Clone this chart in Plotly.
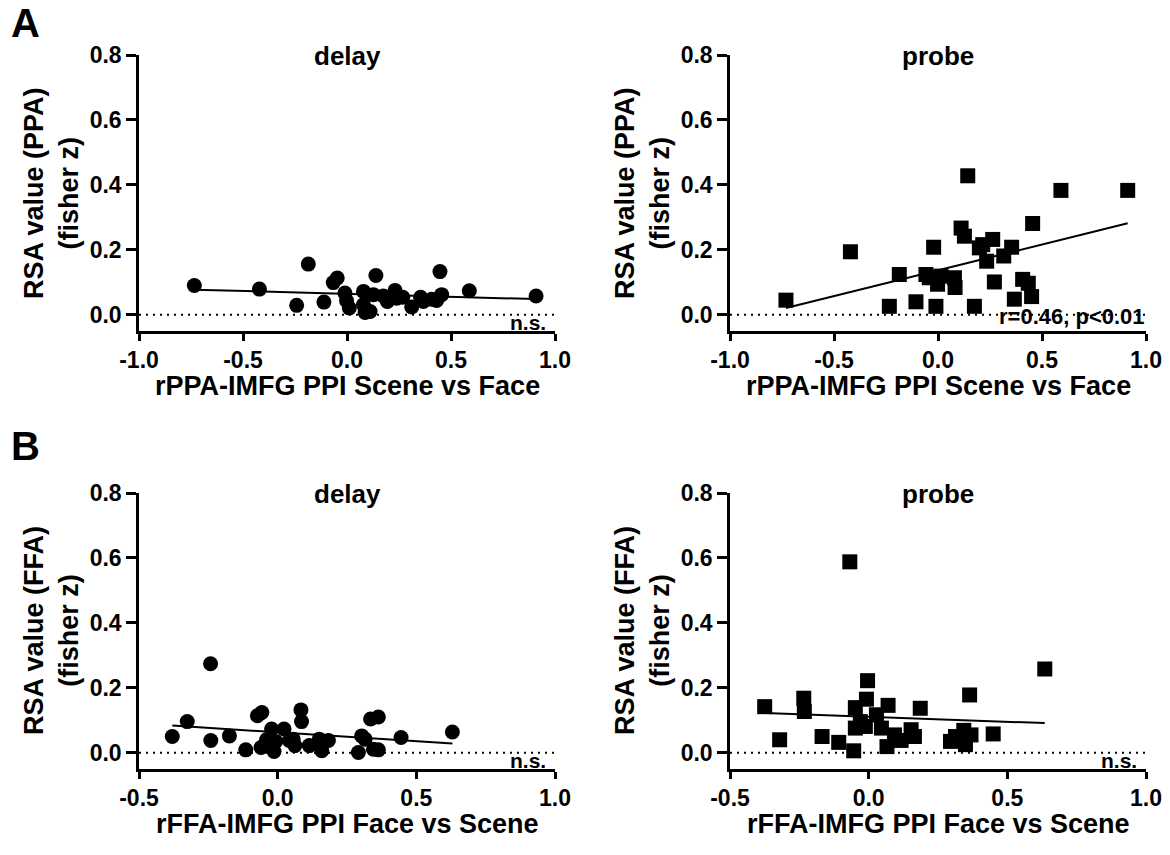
import numpy as np
import plotly.graph_objects as go

# ---------------- data ----------------
a_delay_x = [-0.734, -0.421, -0.186, -0.242, -0.111, -0.066, -0.047, -0.010, -0.002, 0.011,
             0.079, 0.079, 0.087, 0.111, 0.127, 0.139, 0.175, 0.194, 0.231, 0.239,
             0.268, 0.311, 0.354, 0.367, 0.407, 0.431, 0.455, 0.447, 0.588, 0.909]
a_delay_y = [0.090, 0.079, 0.156, 0.029, 0.039, 0.099, 0.113, 0.067, 0.043, 0.021,
             0.072, 0.031, 0.007, 0.010, 0.062, 0.121, 0.058, 0.041, 0.075, 0.051,
             0.054, 0.024, 0.054, 0.041, 0.048, 0.044, 0.062, 0.133, 0.074, 0.058]

a_probe_x = [-0.731, -0.421, -0.234, -0.186, -0.106, -0.058, -0.042, -0.021, -0.010, -0.002,
             0.014, 0.079, 0.082, 0.111, 0.127, 0.143, 0.175, 0.199, 0.215, 0.234,
             0.263, 0.271, 0.316, 0.354, 0.367, 0.407, 0.434, 0.450, 0.455, 0.591, 0.912]
a_probe_y = [0.045, 0.194, 0.026, 0.124, 0.040, 0.124, 0.114, 0.208, 0.026, 0.094,
             0.119, 0.114, 0.084, 0.267, 0.242, 0.428, 0.026, 0.206, 0.216, 0.165,
             0.232, 0.101, 0.181, 0.208, 0.048, 0.109, 0.097, 0.056, 0.281, 0.383, 0.383]

b_delay_x = [-0.380, -0.326, -0.242, -0.241, -0.174, -0.115, -0.073, -0.057, -0.060, -0.040,
             -0.022, -0.013, -0.007, 0.023, 0.042, 0.062, 0.056, 0.084, 0.086, 0.114,
             0.150, 0.159, 0.183, 0.291, 0.303, 0.315, 0.335, 0.363, 0.345, 0.363, 0.445, 0.630]
b_delay_y = [0.050, 0.096, 0.274, 0.038, 0.052, 0.009, 0.114, 0.124, 0.016, 0.040,
             0.073, 0.004, 0.035, 0.073, 0.038, 0.022, 0.042, 0.132, 0.096, 0.022,
             0.042, 0.006, 0.038, 0.001, 0.052, 0.042, 0.104, 0.110, 0.011, 0.009, 0.047, 0.064]

b_probe_x = [-0.375, -0.321, -0.234, -0.232, -0.168, -0.108, -0.068, -0.054, -0.048, -0.048,
             -0.030, -0.012, -0.008, -0.004, 0.028, 0.046, 0.066, 0.070, 0.093, 0.117,
             0.153, 0.165, 0.186, 0.295, 0.313, 0.343, 0.349, 0.369, 0.364, 0.449, 0.635]
b_probe_y = [0.142, 0.040, 0.168, 0.127, 0.050, 0.032, 0.588, 0.006, 0.139, 0.076,
             0.096, 0.081, 0.165, 0.222, 0.117, 0.076, 0.019, 0.146, 0.055, 0.038,
             0.071, 0.050, 0.137, 0.035, 0.050, 0.069, 0.025, 0.055, 0.178, 0.058, 0.258]

y_ticks = [0.0, 0.2, 0.4, 0.6, 0.8]
y_ticktext = ["0.0", "0.2", "0.4", "0.6", "0.8"]
xa_ticks = [-1.0, -0.5, 0.0, 0.5, 1.0]
xa_ticktext = ["-1.0", "-0.5", "0.0", "0.5", "1.0"]
xb_ticks = [-0.5, 0.0, 0.5, 1.0]
xb_ticktext = ["-0.5", "0.0", "0.5", "1.0"]

panel_titles = ["delay", "probe", "delay", "probe"]
x_titles = ["rPPA-IMFG PPI Scene vs Face", "rPPA-IMFG PPI Scene vs Face",
            "rFFA-IMFG PPI Face vs Scene", "rFFA-IMFG PPI Face vs Scene"]
y_titles = ["RSA value (PPA)<br>(fisher z)", "RSA value (PPA)<br>(fisher z)",
            "RSA value (FFA)<br>(fisher z)", "RSA value (FFA)<br>(fisher z)"]
stat_texts = ["n.s.", "r=0.46, p<0.01", "n.s.", "n.s."]
panel_letters = ["A", "B"]

# ---------------- layout geometry ----------------
W, H = 1170, 855
FONT = "Arial, Liberation Sans, sans-serif"

def px_x(p):
    return p / W

def px_y(p):
    return 1 - p / H

panels = [
    dict(x=a_delay_x, y=a_delay_y, sym="circle", size=15, xl=139, xr=555, yt=55, yb=331,
         xrange=[-1.0, 1.0], xt=xa_ticks, xtt=xa_ticktext),
    dict(x=a_probe_x, y=a_probe_y, sym="square", size=15, xl=730, xr=1146, yt=55, yb=331,
         xrange=[-1.0, 1.0], xt=xa_ticks, xtt=xa_ticktext),
    dict(x=b_delay_x, y=b_delay_y, sym="circle", size=15, xl=139, xr=555, yt=493, yb=769,
         xrange=[-0.5, 1.0], xt=xb_ticks, xtt=xb_ticktext),
    dict(x=b_probe_x, y=b_probe_y, sym="square", size=15, xl=730, xr=1146, yt=493, yb=769,
         xrange=[-0.5, 1.0], xt=xb_ticks, xtt=xb_ticktext),
]

fig = go.Figure()
annotations = []
shapes = []
layout_axes = {}

for i, p in enumerate(panels):
    n = "" if i == 0 else str(i + 1)
    xr, yr = "x" + n, "y" + n
    xs = np.array(p["x"])
    ys = np.array(p["y"])
    # scatter points
    fig.add_trace(go.Scatter(x=xs, y=ys, mode="markers", xaxis=xr, yaxis=yr,
                             marker=dict(symbol=p["sym"], size=p["size"], color="black",
                                         line=dict(width=0)),
                             showlegend=False, hoverinfo="x+y"))
    # linear regression line over the data range
    k, b = np.polyfit(xs, ys, 1)
    lx = np.array([xs.min(), xs.max()])
    fig.add_trace(go.Scatter(x=lx, y=k * lx + b, mode="lines", xaxis=xr, yaxis=yr,
                             line=dict(color="black", width=2), showlegend=False,
                             hoverinfo="skip"))
    # dotted zero line
    shapes.append(dict(type="line", xref=xr + " domain", yref=yr, x0=0, x1=1, y0=0, y1=0,
                       line=dict(color="black", width=2, dash="2px,5px"), layer="below"))

    tickfont = dict(family=FONT, size=23, color="black", weight="bold")
    layout_axes["xaxis" + n] = dict(
        domain=[px_x(p["xl"]), px_x(p["xr"])], range=p["xrange"], anchor=yr,
        tickvals=p["xt"], ticktext=p["xtt"], ticks="outside", ticklen=7, tickwidth=2.5,
        tickcolor="black", showline=True, linewidth=2.5, linecolor="black",
        showgrid=False, zeroline=False, tickfont=tickfont, fixedrange=True,
        automargin=False)
    layout_axes["yaxis" + n] = dict(
        domain=[px_y(p["yb"]), px_y(p["yt"])], range=[-0.05, 0.8], anchor=xr,
        tickvals=y_ticks, ticktext=y_ticktext, ticks="outside", ticklen=10, tickwidth=2.5,
        tickcolor="black", showline=True, linewidth=2.5, linecolor="black",
        showgrid=False, zeroline=False, tickfont=tickfont, fixedrange=True,
        automargin=False)

    cx = (p["xl"] + p["xr"]) / 2
    cy = (p["yt"] + p["yb"]) / 2
    tf = dict(family=FONT, size=26, color="black", weight="bold")
    af = dict(family=FONT, size=27, color="black", weight="bold")
    # panel title
    annotations.append(dict(text=panel_titles[i], x=px_x(cx), y=px_y(p["yt"] + 1),
                            xref="paper", yref="paper", showarrow=False,
                            xanchor="center", yanchor="middle", font=tf))
    # x-axis title
    annotations.append(dict(text=x_titles[i], x=px_x(cx), y=px_y(p["yb"] + 55),
                            xref="paper", yref="paper", showarrow=False,
                            xanchor="center", yanchor="middle", font=af))
    # y-axis title
    annotations.append(dict(text=y_titles[i], x=px_x(p["xl"] - 88), y=px_y(cy),
                            xref="paper", yref="paper", showarrow=False, textangle=-90,
                            xanchor="center", yanchor="middle", font=af))
    # statistics text
    annotations.append(dict(text=stat_texts[i], x=px_x(p["xr"] - 7 if i != 1 else p["xr"] + 1),
                            y=px_y(p["yb"] - 9 if i != 1 else p["yb"] - 15),
                            xref="paper", yref="paper", showarrow=False,
                            xanchor="right", yanchor="middle",
                            font=dict(family=FONT, size=21 if i != 1 else 22,
                                      color="black", weight="bold")))

# panel letters
for letter, ypix in zip(panel_letters, [23, 446]):
    annotations.append(dict(text=letter, x=px_x(25), y=px_y(ypix), xref="paper", yref="paper",
                            showarrow=False, xanchor="center", yanchor="middle",
                            font=dict(family=FONT, size=40, color="black", weight="bold")))

fig.update_layout(template="none", width=W, height=H, autosize=False,
                  margin=dict(l=0, r=0, t=0, b=0, pad=0),
                  paper_bgcolor="white", plot_bgcolor="white",
                  annotations=annotations, shapes=shapes, showlegend=False,
                  **layout_axes)

fig.write_html("out.html", config={"displayModeBar": False},
               post_script="document.body.style.margin='0px';")
